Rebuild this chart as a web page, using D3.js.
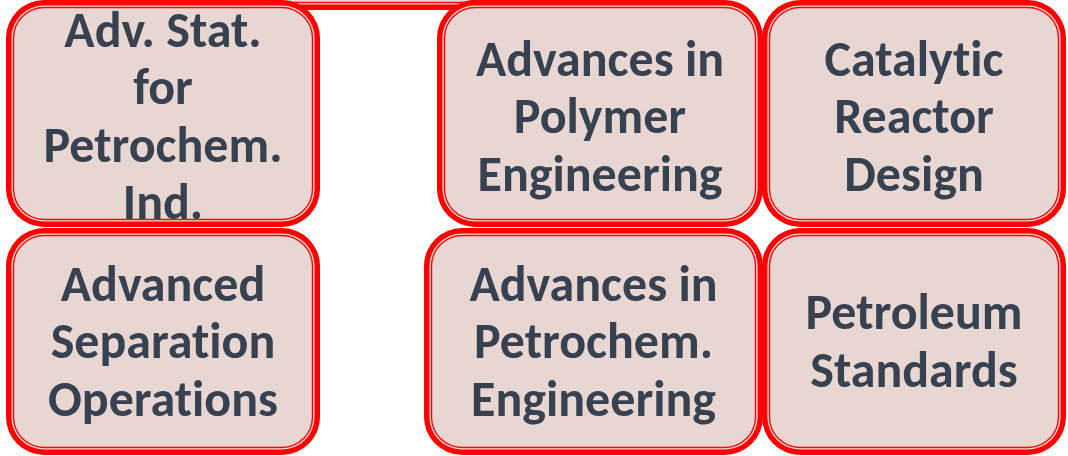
<!DOCTYPE html>
<html>
<head>
<meta charset="utf-8">
<script src="https://cdn.jsdelivr.net/npm/d3@7"></script>
<style>
  html, body { margin: 0; padding: 0; background: #fff; }
  #chart { width: 1068px; height: 456px; overflow: hidden; }
</style>
</head>
<body>
<div id="chart"></div>
<script>
// Course boxes, read left-to-right, top row then bottom row.
const courseLines = [
  ["Adv. Stat.", "for", "Petrochem.", "Ind."],
  ["Advances in", "Polymer", "Engineering"],
  ["Catalytic", "Reactor", "Design"],
  ["Advanced", "Separation", "Operations"],
  ["Advances in", "Petrochem.", "Engineering"],
  ["Petroleum", "Standards"]
];
const courseRow = [0, 0, 0, 1, 1, 1];
const courseCol = [0, 1, 2, 0, 1, 2];

// Layout (not data): column edges for each row, the shapes are not a regular grid.
const width = 1068, height = 456;
const colEdges = [
  [[6, 320], [437, 763], [762, 1066]],
  [[6, 320], [424, 763], [762, 1066]]
];
// baseline shift of the text block centre, per row
const rowTextShift = [19.5, 16.5];

const y = d3.scaleBand().domain([0, 1]).range([0, height]).paddingInner(0);

const svg = d3.select("#chart")
  .append("svg")
  .attr("width", width)
  .attr("height", height);

const RED = "#ff0000";
const LIGHT = "#f6dcda";
const FILL = "#e8d6d3";
const TEXT = "#37414f";

// Draws a rounded box with the double red border.
function drawBox(g, x0, y0, x1, y1, r) {
  const layers = [
    { inset: 0, fill: RED },
    { inset: 5.4, fill: LIGHT },
    { inset: 6.8, fill: RED },
    { inset: 8.2, fill: FILL }
  ];
  layers.forEach(l => {
    g.append("rect")
      .attr("x", x0 + l.inset)
      .attr("y", y0 + l.inset)
      .attr("width", x1 - x0 - 2 * l.inset)
      .attr("height", y1 - y0 - 2 * l.inset)
      .attr("rx", Math.max(r - l.inset, 0))
      .style("fill", l.fill);
  });
}

// Parent shape peeking in from above (its bottom edge links the first two boxes).
drawBox(svg.append("g"), 250, -240, 500, 10, 38);

const boxes = courseLines.map((lines, i) => {
  const [x0, x1] = colEdges[courseRow[i]][courseCol[i]];
  const y0 = y(courseRow[i]);
  return { lines, row: courseRow[i], x0, x1, y0, y1: y0 + y.bandwidth() - 1 };
});

const lineH = 57.5;
boxes.forEach(b => {
  const g = svg.append("g").attr("class", "course");
  drawBox(g, b.x0, b.y0, b.x1, b.y1, 38);
  const cx = (b.x0 + b.x1) / 2, cy = (b.y0 + b.y1) / 2;
  const n = b.lines.length;
  g.append("text")
    .attr("text-anchor", "middle")
    .style("font-family", "Carlito, Lato, 'Open Sans', sans-serif")
    .style("font-weight", 700)
    .style("font-size", "50px")
    .style("font-variant-ligatures", "none")
    .style("fill", TEXT)
    .selectAll("tspan")
    .data(b.lines)
    .enter()
    .append("tspan")
    .attr("x", cx)
    .attr("y", (d, k) => cy + (k - (n - 1) / 2) * lineH + rowTextShift[b.row])
    .text(d => d);
});
</script>
</body>
</html>
